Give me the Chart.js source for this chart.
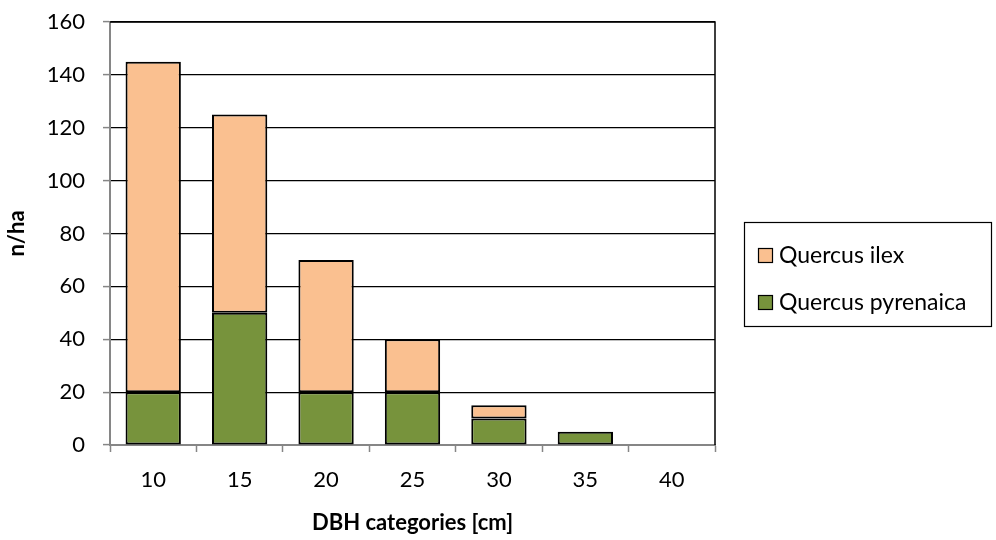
<!DOCTYPE html>
<html>
<head>
<meta charset="utf-8">
<script src="https://cdn.jsdelivr.net/npm/chart.js@4/dist/chart.umd.min.js"></script>
<style>
  html, body { margin: 0; padding: 0; background: #fff; }
  #wrap { width: 996px; height: 540px; position: relative; }
</style>
</head>
<body>
<div id="wrap"><canvas id="c" width="996" height="540"></canvas></div>
<script>
// DBH classes (cm) and stem density (n/ha) per species
const categories = ['10', '15', '20', '25', '30', '35', '40'];
const quercusPyrenaica = [20, 50, 20, 20, 10, 5, 0];
const quercusIlex = [125, 75, 50, 20, 5, 0, 0];
const yTicks = [0, 20, 40, 60, 80, 100, 120, 140, 160];

const FONT = 'Lato, "Open Sans", sans-serif';
const AXIS_GREY = '#868686';

// Frame on top/right of the plot area plus a boxed legend at the right
const framePlugin = {
  id: 'frameAndLegend',
  afterDraw(chart) {
    const { ctx, chartArea: a } = chart;
    ctx.save();
    ctx.strokeStyle = '#000';
    ctx.lineWidth = 1.5;
    ctx.beginPath();
    ctx.moveTo(a.left, a.top);
    ctx.lineTo(a.right, a.top);
    ctx.lineTo(a.right, a.bottom);
    ctx.stroke();

    // legend box
    const bx = 744.5, by = 222.5, bw = 247, bh = 104;
    ctx.lineWidth = 1.2;
    ctx.strokeRect(bx, by, bw, bh);
    const items = [chart.data.datasets[1], chart.data.datasets[0]];
    const rows = [255, 302];
    ctx.font = '23px ' + FONT;
    ctx.textBaseline = 'middle';
    ctx.textAlign = 'left';
    items.forEach((ds, i) => {
      const y = rows[i];
      ctx.fillStyle = ds.backgroundColor;
      ctx.fillRect(758, y - 7, 15, 15);
      ctx.strokeStyle = '#000';
      ctx.lineWidth = 1.2;
      ctx.strokeRect(758.5, y - 6.5, 14, 14);
      ctx.fillStyle = '#000';
      ctx.fillText(ds.label, 779, y + 1);
    });
    ctx.restore();
  }
};

new Chart(document.getElementById('c'), {
  type: 'bar',
  data: {
    labels: categories,
    datasets: [
      {
        label: 'Quercus pyrenaica',
        data: quercusPyrenaica,
        backgroundColor: '#77933C',
        borderColor: '#000',
        borderWidth: c => (c.raw ? 2 : 0),
        borderSkipped: false
      },
      {
        label: 'Quercus ilex',
        data: quercusIlex,
        backgroundColor: '#FAC090',
        borderColor: '#000',
        borderWidth: c => (c.raw ? 2 : 0),
        borderSkipped: false
      }
    ]
  },
  options: {
    responsive: false,
    animation: false,
    devicePixelRatio: 1,
    layout: { padding: { left: 0, top: 22, right: 281, bottom: 0 } },
    datasets: { bar: { categoryPercentage: 1, barPercentage: 0.64 } },
    plugins: { legend: { display: false }, tooltip: { enabled: false } },
    scales: {
      x: {
        stacked: true,
        grid: {
          offset: true,
          drawOnChartArea: false,
          drawTicks: true,
          tickLength: 7,
          tickColor: AXIS_GREY,
          tickWidth: 1.5
        },
        border: { color: AXIS_GREY, width: 2 },
        ticks: { color: '#000', font: { family: FONT, size: 22 }, padding: 15 },
        title: {
          display: true,
          text: 'DBH categories [cm]',
          color: '#000',
          font: { family: FONT, size: 22, weight: 'bold' },
          padding: { top: 8 }
        },
        afterFit(s) { s.height = 95; }
      },
      y: {
        stacked: true,
        min: 0,
        max: 160,
        afterBuildTicks(s) { s.ticks = yTicks.map(v => ({ value: v })); },
        grid: {
          color: '#000',
          lineWidth: 1.2,
          drawTicks: true,
          tickLength: 7,
          tickColor: AXIS_GREY,
          tickWidth: 1.5
        },
        border: { color: AXIS_GREY, width: 2 },
        ticks: { color: '#000', font: { family: FONT, size: 22 }, padding: 18 },
        title: {
          display: true,
          text: 'n/ha',
          color: '#000',
          font: { family: FONT, size: 22, weight: 'bold' },
          padding: { bottom: 0 }
        },
        afterFit(s) {
          s.width = 110;
          s.paddingTop = 0;
          s.paddingBottom = 0;
        }
      }
    }
  },
  plugins: [framePlugin]
});
</script>
</body>
</html>
